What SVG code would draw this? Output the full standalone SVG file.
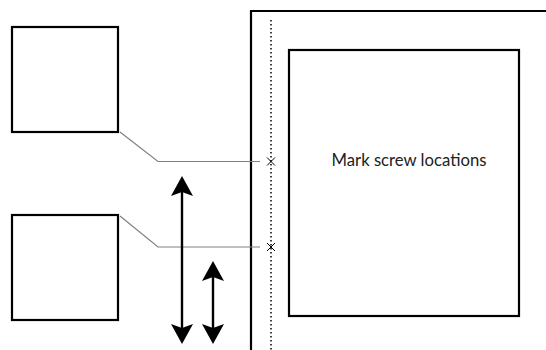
<svg xmlns="http://www.w3.org/2000/svg" width="546" height="350" viewBox="0 0 546 350">
<style>
.box{fill:#fff;stroke:#000;stroke-width:2.2}
.lead{fill:none;stroke:#808080;stroke-width:1.2}
.x{stroke:#000;stroke-width:1}
.shaft{stroke:#000;stroke-width:2.4}
.head{fill:#000}
.frame{fill:none;stroke:#000;stroke-width:2.2}
.dots{stroke:#000;stroke-width:1.5;stroke-dasharray:1.5 2.5}
.label{font-family:Lato,"Noto Sans",sans-serif;font-size:16.5px;fill:#222}
</style>
<defs>
<path id="up" d="M0,0 L11,20 L0,16 L-11,20 Z"/>
</defs>
<g id="frame">
<path class="frame" d="M251,350 L251,11 L546,11"/>
<line class="dots" x1="271" y1="20" x2="271" y2="350"/>
</g>
<g id="panel">
<rect class="box" x="289" y="50" width="230" height="266"/>
<text class="label" x="409" y="166" text-anchor="middle" textLength="155" lengthAdjust="spacingAndGlyphs">Mark screw locations</text>
</g>
<g id="box-top"><rect class="box" x="12" y="27" width="106" height="105"/></g>
<g id="box-bottom"><rect class="box" x="12" y="215" width="106" height="105"/></g>
<g id="connectors">
<path class="lead" d="M120,132 L158,161.5 L260,161.5"/>
<path class="lead" d="M120,216 L158,247 L260,247"/>
<path class="x" d="M267,157.5 L275,165.5 M275,157.5 L267,165.5"/>
<path class="x" d="M267,243 L275,251 M275,243 L267,251"/>
</g>
<g id="arrow-long">
<line class="shaft" x1="182" y1="190" x2="182" y2="330"/>
<use href="#up" class="head" transform="translate(182,176)"/>
<use href="#up" class="head" transform="translate(182,344) scale(1,-1)"/>
</g>
<g id="arrow-short">
<line class="shaft" x1="213" y1="275" x2="213" y2="330"/>
<use href="#up" class="head" transform="translate(213,261)"/>
<use href="#up" class="head" transform="translate(213,344) scale(1,-1)"/>
</g>
</svg>
